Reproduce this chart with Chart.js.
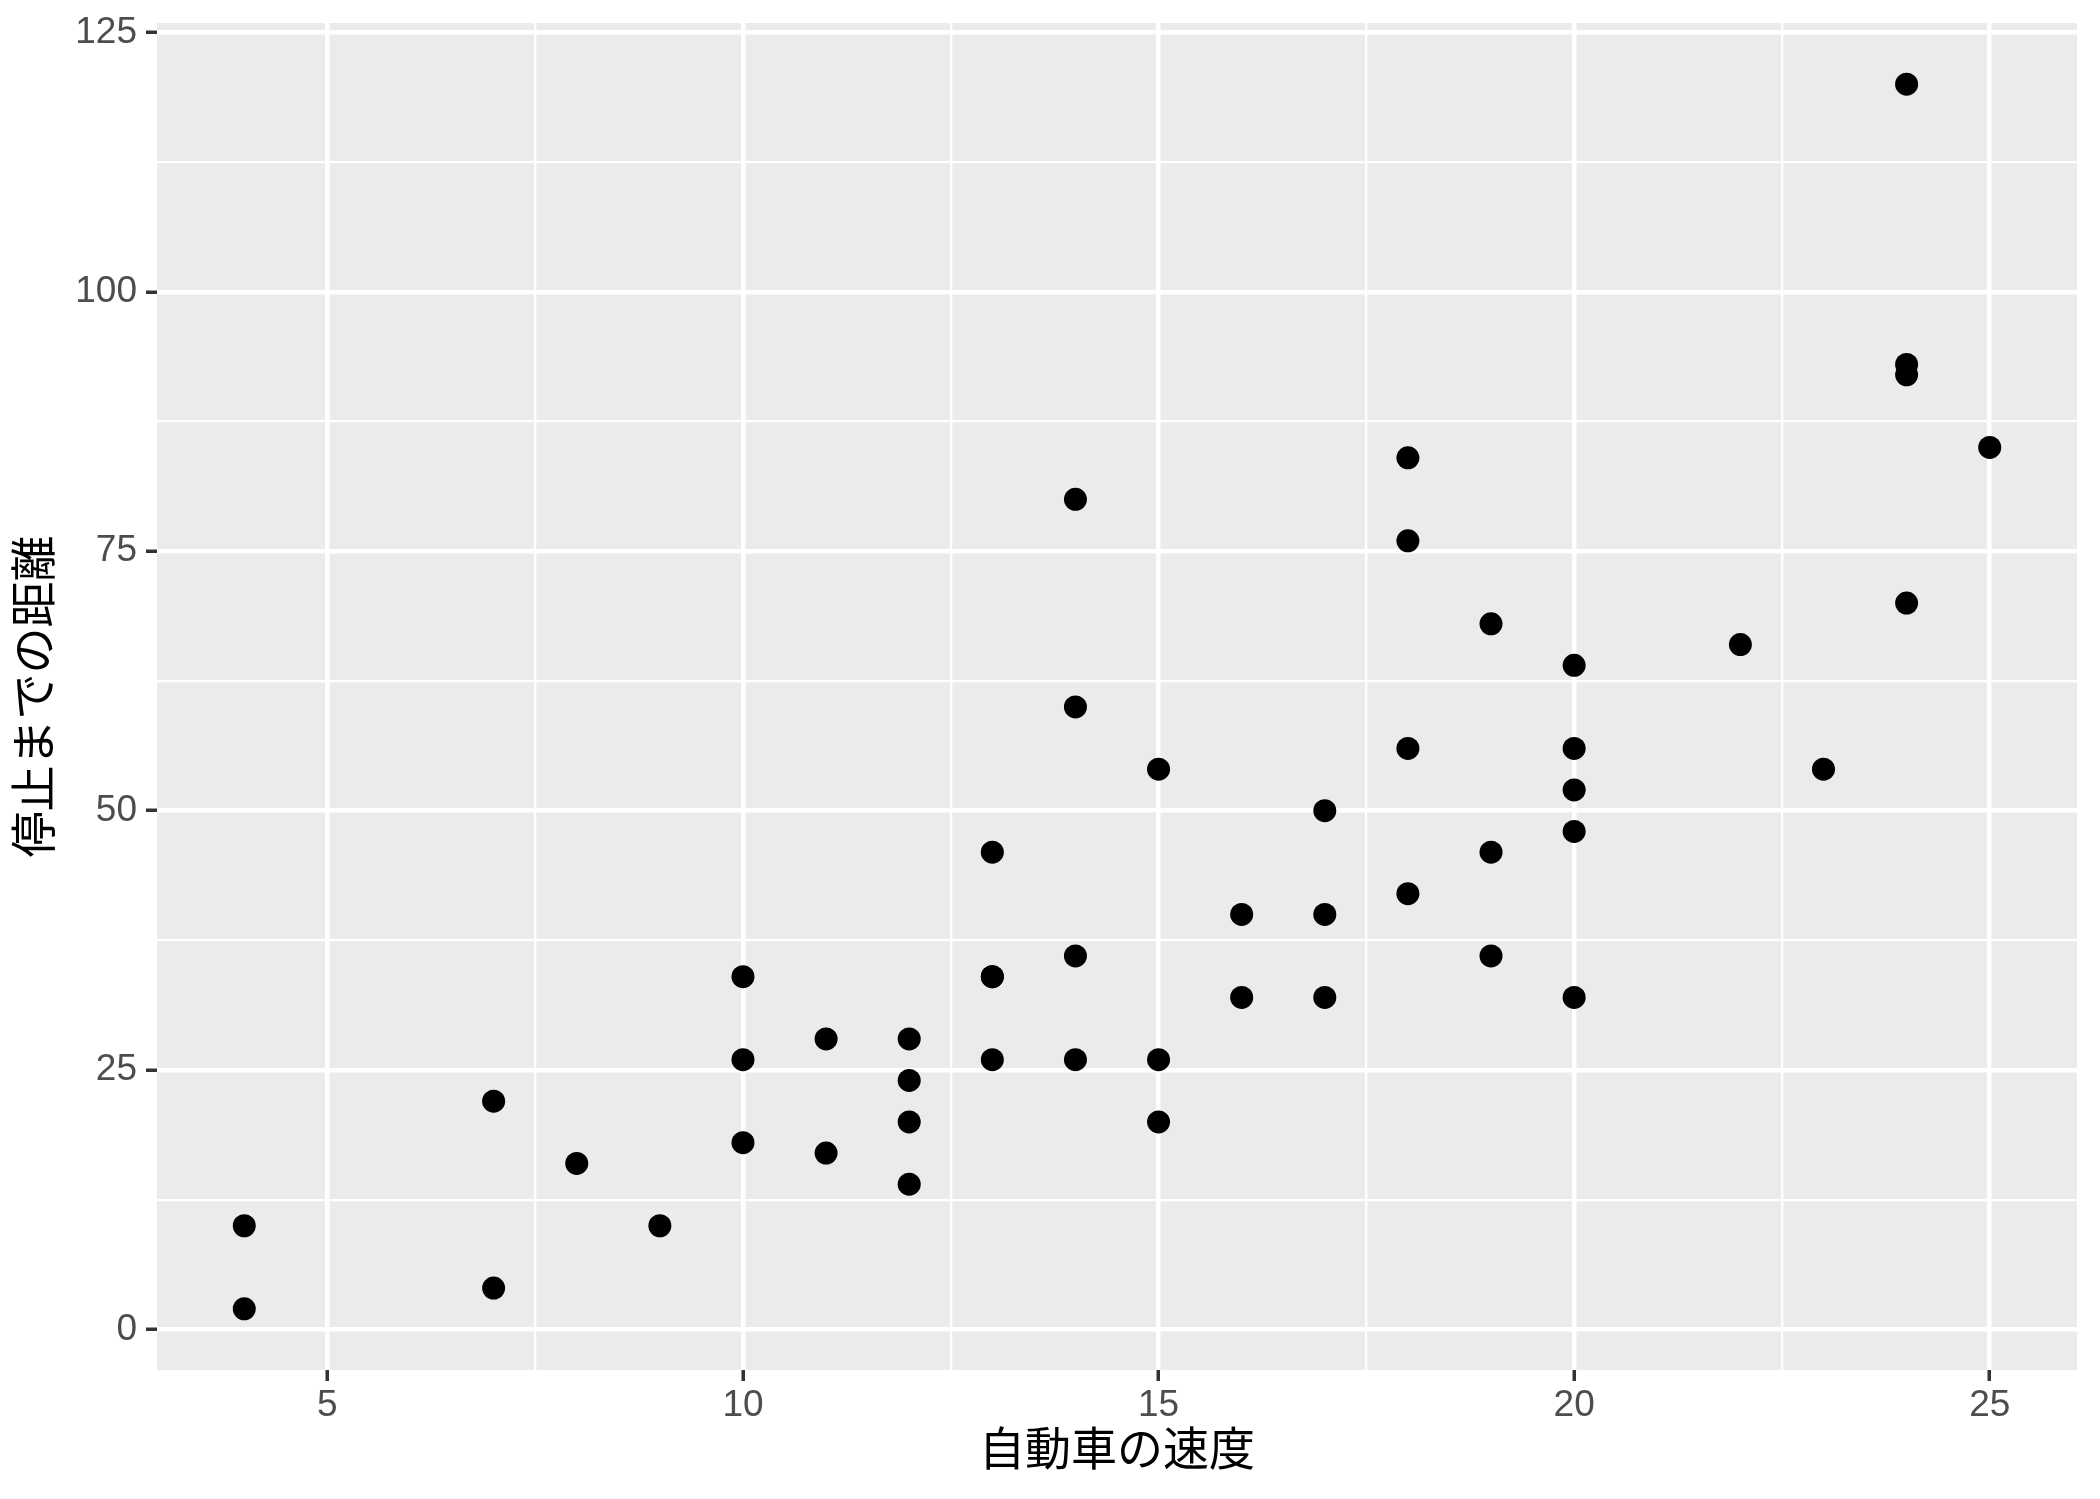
<!DOCTYPE html>
<html>
<head>
<meta charset="utf-8">
<script src="https://cdn.jsdelivr.net/npm/chart.js@4/dist/chart.umd.min.js"></script>
<style>
  html, body { margin: 0; padding: 0; background: #fff; }
  #wrap { width: 2100px; height: 1499px; }
</style>
</head>
<body>
<div id="wrap"><canvas id="chart" width="2100" height="1499"></canvas></div>
<script>
// cars data: speed vs stopping distance
const speed = [4, 4, 7, 7, 8, 9, 10, 10, 10, 11, 11, 12, 12, 12, 12, 13, 13, 13, 13, 14, 14, 14, 14, 15, 15, 15, 16, 16, 17, 17, 17, 18, 18, 18, 18, 19, 19, 19, 20, 20, 20, 20, 20, 22, 23, 24, 24, 24, 24, 25];
const dist = [2, 10, 4, 22, 16, 10, 18, 26, 34, 17, 28, 14, 20, 24, 28, 26, 34, 34, 46, 26, 36, 60, 80, 20, 26, 54, 32, 40, 32, 40, 50, 42, 56, 76, 84, 36, 46, 68, 32, 48, 52, 56, 64, 66, 54, 70, 92, 93, 120, 85];

const xMajor = [5, 10, 15, 20, 25];
const xMinor = [7.5, 12.5, 17.5, 22.5];
const yMajor = [0, 25, 50, 75, 100, 125];
const yMinor = [12.5, 37.5, 62.5, 87.5, 112.5];

const xTitle = '自動車の速度';
const yTitle = '停止までの距離';

const FONT = '"Liberation Sans", Arial, "Noto Sans CJK JP", sans-serif';

const isMajor = (v, list) => list.includes(v);

const panelBg = {
    id: 'panelBg',
    beforeDraw(chart) {
        const a = chart.chartArea;
        const c = chart.ctx;
        c.save();
        c.fillStyle = '#EBEBEB';
        c.fillRect(a.left, a.top, a.right - a.left, a.bottom - a.top);
        c.restore();
    }
};

const gridFor = (major) => ({
    color: '#FFFFFF',
    lineWidth: c => isMajor(c.tick.value, major) ? 4.5 : 2.3,
    drawTicks: true,
    tickLength: 11,
    tickColor: c => isMajor(c.tick.value, major) ? '#333333' : 'rgba(0,0,0,0)',
    tickWidth: 3.5
});

new Chart(document.getElementById('chart').getContext('2d'), {
    type: 'scatter',
    data: {
        datasets: [{
            data: speed.map((s, i) => ({ x: s, y: dist[i] })),
            backgroundColor: '#000000',
            borderWidth: 0,
            pointRadius: 11.5,
            pointHoverRadius: 11.5
        }]
    },
    options: {
        responsive: false,
        animation: false,
        events: [],
        layout: { padding: { top: 23, right: 23, left: 0, bottom: 0 } },
        plugins: { legend: { display: false }, tooltip: { enabled: false } },
        scales: {
            x: {
                type: 'linear',
                min: 2.95,
                max: 26.05,
                afterBuildTicks: s => { s.ticks = [...xMajor, ...xMinor].sort((a, b) => a - b).map(v => ({ value: v })); },
                afterFit: s => { s.height = 129; s.paddingLeft = 0; s.paddingRight = 0; },
                border: { display: false },
                grid: gridFor(xMajor),
                ticks: {
                    autoSkip: false,
                    maxRotation: 0,
                    padding: 3,
                    color: '#4D4D4D',
                    font: { family: FONT, size: 37 },
                    callback: v => isMajor(v, xMajor) ? String(v) : ''
                },
                title: {
                    display: true,
                    text: xTitle,
                    color: '#000000',
                    font: { family: FONT, size: 46 },
                    padding: { top: 0, bottom: 19 }
                }
            },
            y: {
                type: 'linear',
                min: -3.9,
                max: 125.9,
                afterBuildTicks: s => { s.ticks = [...yMajor, ...yMinor].sort((a, b) => a - b).map(v => ({ value: v })); },
                afterFit: s => { s.width = 157; s.paddingTop = 0; s.paddingBottom = 0; },
                border: { display: false },
                grid: gridFor(yMajor),
                ticks: {
                    autoSkip: false,
                    padding: 9,
                    color: '#4D4D4D',
                    font: { family: FONT, size: 37 },
                    callback: v => isMajor(v, yMajor) ? String(v) : ''
                },
                title: {
                    display: true,
                    text: yTitle,
                    color: '#000000',
                    font: { family: FONT, size: 46 },
                    padding: { top: 10, bottom: 0 }
                }
            }
        }
    },
    plugins: [panelBg]
});
</script>
</body>
</html>
